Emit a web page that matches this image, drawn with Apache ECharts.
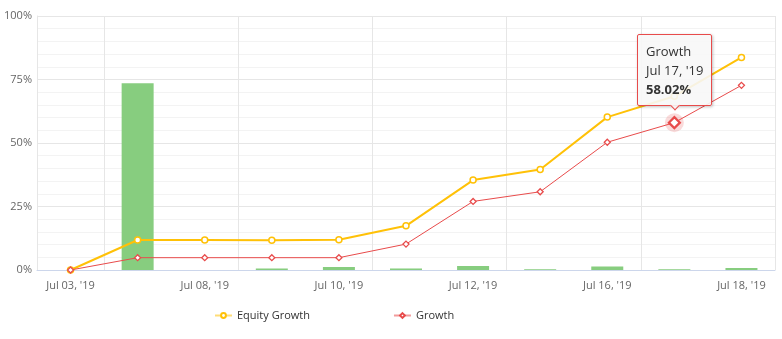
<!DOCTYPE html>
<html>
<head>
<meta charset="utf-8">
<script src="https://cdn.jsdelivr.net/npm/echarts@6/dist/echarts.min.js"></script>
<style>
  html, body { margin: 0; padding: 0; background: #ffffff; }
  #chart { width: 782px; height: 339px; }
</style>
</head>
<body>
<div id="chart"></div>
<script>
// Trading days shown on the x axis
const categories = ["Jul 03, '19", "Jul 05, '19", "Jul 08, '19", "Jul 09, '19", "Jul 10, '19", "Jul 11, '19",
                    "Jul 12, '19", "Jul 15, '19", "Jul 16, '19", "Jul 17, '19", "Jul 18, '19"];
// Cumulative equity growth, %
const equityGrowth = [0, 11.8, 11.8, 11.7, 11.9, 17.4, 35.4, 39.6, 60.2, 68.4, 83.7];
// Cumulative growth, %
const growth = [0, 4.85, 4.85, 4.85, 4.85, 10.2, 27.0, 30.8, 50.3, 58.02, 72.7];
// Daily change bars, %
const daily = [0, 73.5, 0, 0.6, 1.2, 0.6, 1.6, 0.3, 1.4, 0.3, 0.8];
// Y axis ticks
const yTicks = [0, 25, 50, 75, 100];

const focusIndex = 9; // the point with the open tooltip

const RED = '#e84b4b';
const YELLOW = '#ffc107';
const FONT = 'Open Sans';

const chart = echarts.init(document.getElementById('chart'), null, { renderer: 'canvas' });

const growthData = growth.map((v, i) => i === focusIndex
  ? { value: v, symbolSize: 11, itemStyle: { borderWidth: 2.2 } }
  : v);

chart.setOption({
  animation: false,
  textStyle: { fontFamily: FONT },
  grid: { left: 37, right: 7, top: 16, bottom: 69, containLabel: false },
  legend: {
    left: 209, top: 305,
    itemWidth: 17, itemHeight: 6, itemGap: 83,
    data: ['Equity Growth', 'Growth'],
    lineStyle: { opacity: 0.55, width: 2 },
    textStyle: { color: '#333', fontSize: 11, fontFamily: FONT }
  },
  tooltip: {
    trigger: 'item',
    triggerOn: 'none',
    alwaysShowContent: true,
    position: 'top',
    transitionDuration: 0,
    backgroundColor: 'rgba(247,247,247,0.9)',
    borderColor: RED,
    borderWidth: 1,
    padding: [7, 8, 6, 8],
    textStyle: { color: '#333', fontSize: 13, fontFamily: FONT, lineHeight: 19 },
    extraCssText: 'border-radius:2px;box-shadow:1px 1px 3px rgba(0,0,0,0.25);line-height:19px;',
    formatter: p => p.seriesName + '<br/>' + categories[p.dataIndex] + '<br/><b>' + p.value.toFixed(2) + '%</b>'
  },
  xAxis: {
    type: 'category',
    data: categories,
    boundaryGap: true,
    axisLine: { show: true, lineStyle: { color: '#ccd6eb', width: 1 } },
    axisTick: { show: false },
    axisLabel: { interval: 1, color: '#666', fontSize: 11, margin: 10, fontFamily: FONT },
    splitLine: {
      show: true,
      interval: (i) => i % 2 === 1,
      lineStyle: { color: '#e6e6e6', width: 1 }
    }
  },
  yAxis: {
    type: 'value',
    min: yTicks[0], max: yTicks[yTicks.length - 1], interval: 25,
    axisLine: { show: true, lineStyle: { color: '#e6e6e6' } },
    axisTick: { show: false },
    axisLabel: { formatter: '{value}%', color: '#666', fontSize: 11, margin: 5, fontFamily: FONT },
    splitLine: { show: true, lineStyle: { color: '#e6e6e6' } },
    minorTick: { show: false, splitNumber: 5 },
    minorSplitLine: { show: true, lineStyle: { color: '#f3f3f3' } }
  },
  series: [
    {
      name: 'Daily',
      type: 'bar',
      data: daily,
      barWidth: 32,
      itemStyle: { color: '#87cd7f' },
      z: 1
    },
    {
      name: 'Focus',
      type: 'scatter',
      data: [[focusIndex, growth[focusIndex]]],
      symbol: 'circle',
      symbolSize: 19,
      itemStyle: { color: 'rgba(232,75,75,0.25)' },
      silent: true,
      z: 2
    },
    {
      name: 'Equity Growth',
      type: 'line',
      data: equityGrowth,
      symbol: 'circle',
      symbolSize: 6,
      showAllSymbol: true,
      lineStyle: { color: YELLOW, width: 2 },
      itemStyle: { color: '#ffffff', borderColor: YELLOW, borderWidth: 1.5 },
      z: 3
    },
    {
      name: 'Growth',
      type: 'line',
      data: growthData,
      symbol: 'diamond',
      symbolSize: 6,
      showAllSymbol: true,
      lineStyle: { color: RED, width: 1 },
      itemStyle: { color: '#ffffff', borderColor: RED, borderWidth: 1.3 },
      z: 4
    }
  ]
});

chart.dispatchAction({ type: 'showTip', seriesIndex: 3, dataIndex: focusIndex });
</script>
</body>
</html>
